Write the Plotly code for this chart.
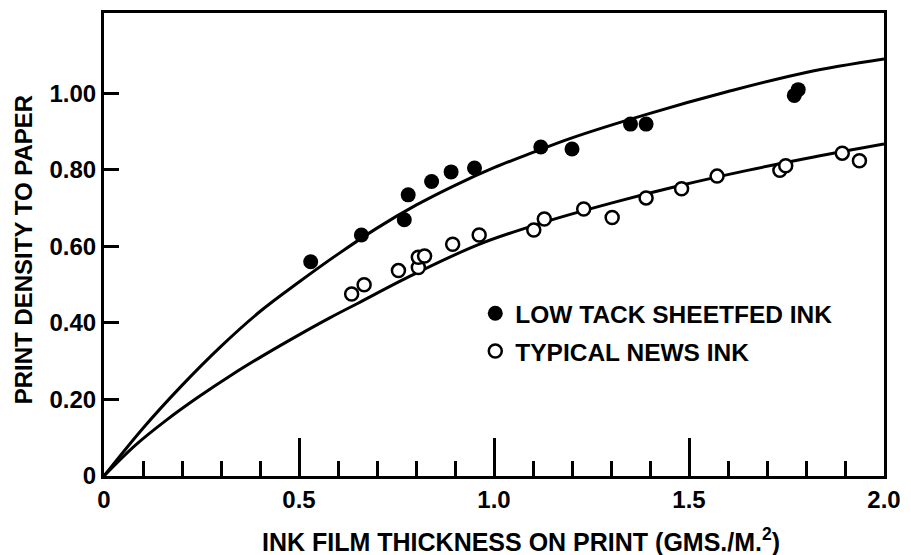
import plotly.graph_objects as go

# Measured points: low tack sheetfed ink (filled) and typical news ink (open)
sheetfed_x = [0.53, 0.66, 0.78, 0.77, 0.84, 0.89, 0.95, 1.12, 1.20, 1.35, 1.39, 1.77, 1.78]
sheetfed_y = [0.56, 0.63, 0.735, 0.67, 0.77, 0.795, 0.805, 0.86, 0.855, 0.92, 0.92, 0.995, 1.01]

news_x = [0.635, 0.667, 0.755, 0.806, 0.806, 0.822, 0.894, 0.962, 1.102, 1.129,
          1.23, 1.303, 1.39, 1.481, 1.572, 1.733, 1.748, 1.893, 1.937]
news_y = [0.476, 0.50, 0.537, 0.545, 0.572, 0.575, 0.606, 0.630, 0.643, 0.672,
          0.698, 0.676, 0.727, 0.751, 0.784, 0.799, 0.811, 0.844, 0.824]

# Smooth curves drawn through each data set
sheetfed_curve_x = [0, 0.1, 0.2, 0.3, 0.4, 0.5, 0.6, 0.7, 0.8, 0.9, 1.0, 1.1, 1.2, 1.4, 1.6, 1.8, 2.0]
sheetfed_curve_y = [0, 0.125, 0.237, 0.339, 0.430, 0.507, 0.580, 0.648, 0.708, 0.760, 0.806,
                    0.846, 0.884, 0.948, 1.005, 1.055, 1.090]
news_curve_x = [0, 0.08, 0.16, 0.24, 0.33, 0.41, 0.50, 0.58, 0.65, 0.79, 0.96, 1.13, 1.31,
                1.48, 1.65, 1.82, 2.0]
news_curve_y = [0, 0.080, 0.146, 0.205, 0.266, 0.316, 0.369, 0.414, 0.451, 0.525, 0.605,
                0.664, 0.716, 0.760, 0.799, 0.834, 0.868]

x_tickvals = [0, 0.5, 1.0, 1.5, 2.0]
x_ticktext = ["0", "0.5", "1.0", "1.5", "2.0"]
y_tickvals = [0, 0.2, 0.4, 0.6, 0.8, 1.0]
y_ticktext = ["0", "0.20", "0.40", "0.60", "0.80", "1.00"]

FONT = "Liberation Sans, Arial, sans-serif"
INK = "#000000"

fig = go.Figure()

fig.add_trace(go.Scatter(x=sheetfed_curve_x, y=sheetfed_curve_y, mode="lines",
                         line=dict(color=INK, width=3, shape="spline", smoothing=1.0),
                         showlegend=False, hoverinfo="skip"))
fig.add_trace(go.Scatter(x=news_curve_x, y=news_curve_y, mode="lines",
                         line=dict(color=INK, width=3, shape="spline", smoothing=1.0),
                         showlegend=False, hoverinfo="skip"))

fig.add_trace(go.Scatter(x=sheetfed_x, y=sheetfed_y, mode="markers",
                         name="LOW TACK SHEETFED INK", legendgroup="sheetfed",
                         marker=dict(symbol="circle", size=15, color=INK,
                                     line=dict(color=INK, width=0))))
fig.add_trace(go.Scatter(x=news_x, y=news_y, mode="markers",
                         name="TYPICAL NEWS INK", legendgroup="news",
                         marker=dict(symbol="circle", size=13, color="white",
                                     line=dict(color=INK, width=2.5))))

fig.update_layout(
    width=911, height=555,
    margin=dict(l=104, r=19, t=10, b=79),
    paper_bgcolor="white", plot_bgcolor="white",
    font=dict(family=FONT, size=24, color=INK),
    showlegend=True,
    legend=dict(x=0.476, y=0.40, xanchor="left", yanchor="top",
                bgcolor="rgba(0,0,0,0)", borderwidth=0, tracegroupgap=3,
                font=dict(family=FONT, size=24.5, color=INK, weight="bold"),
                itemsizing="trace"),
    xaxis=dict(
        range=[0, 2.0], showgrid=False, zeroline=False,
        showline=True, linecolor=INK, linewidth=3, mirror=True,
        tickmode="array", tickvals=x_tickvals, ticktext=x_ticktext,
        ticks="inside", ticklen=38, tickwidth=3, tickcolor=INK,
        tickfont=dict(family=FONT, size=24, color=INK, weight="bold"),
        minor=dict(dtick=0.1, tick0=0, ticks="inside", ticklen=15, tickwidth=3, tickcolor=INK),
    ),
    yaxis=dict(
        range=[0, 1.2104], showgrid=False, zeroline=False,
        showline=True, linecolor=INK, linewidth=3, mirror=True,
        tickmode="array", tickvals=y_tickvals, ticktext=y_ticktext,
        ticks="inside", ticklen=15, tickwidth=3, tickcolor=INK,
        tickfont=dict(family=FONT, size=24, color=INK, weight="bold"),
    ),
    annotations=[
        dict(text="INK FILM THICKNESS ON PRINT (GMS./M.<sup>2</sup>)",
             xref="paper", yref="paper", x=0.534, y=-0.138,
             xanchor="center", yanchor="middle", showarrow=False,
             font=dict(family=FONT, size=25, color=INK, weight="bold")),
        dict(text="PRINT DENSITY TO PAPER", textangle=-90,
             xref="paper", yref="paper", x=-0.103, y=0.489,
             xanchor="center", yanchor="middle", showarrow=False,
             font=dict(family=FONT, size=24, color=INK, weight="bold")),
    ],
)

fig.write_html("out.html")
